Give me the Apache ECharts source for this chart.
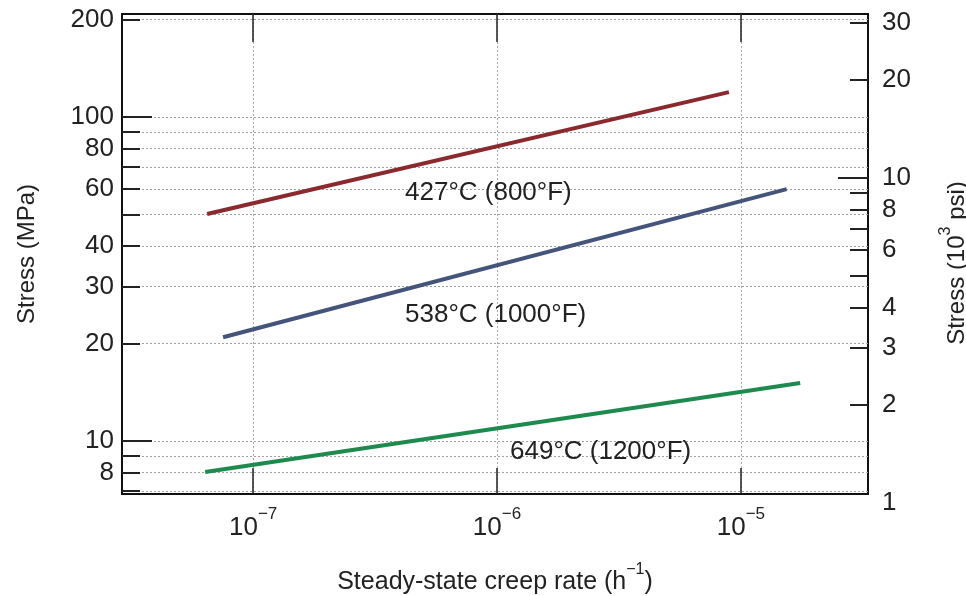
<!DOCTYPE html>
<html>
<head>
<meta charset="utf-8">
<script src="https://cdn.jsdelivr.net/npm/echarts@6/dist/echarts.min.js"></script>
<style>
html, body { margin: 0; padding: 0; background: #fff; }
#main { width: 966px; height: 596px; }
</style>
</head>
<body>
<div id="main"></div>
<script>
var myChart = echarts.init(document.getElementById('main'));

// end points of the three straight lines: creep rate (1/h), stress (MPa)
var rate_427 = [6.48e-8, 8.93e-6];
var stress_427 = [50.2, 119.4];
var rate_538 = [7.53e-8, 1.54e-5];
var stress_538 = [20.9, 59.9];
var rate_649 = [6.36e-8, 1.75e-5];
var stress_649 = [8.02, 15.1];

var series_names = ['427°C (800°F)', '538°C (1000°F)', '649°C (1200°F)'];

// axis ranges and ticks
var rate_range = [2.9e-8, 3.32e-5];
var mpa_range = [6.86, 208];
var ksi_range = [1, 30];
var rate_ticks = [1e-7, 1e-6, 1e-5];
var mpa_ticks = [7, 8, 9, 10, 20, 30, 40, 50, 60, 70, 80, 90, 100, 200];
var mpa_labels = [8, 10, 20, 30, 40, 60, 80, 100, 200];
var mpa_long = [10, 100];
var ksi_ticks = [2, 3, 4, 5, 6, 7, 8, 9, 10, 20, 30];
var ksi_labels = [1, 2, 3, 4, 6, 8, 10, 20, 30];
var ksi_long = [10];

var lg = Math.log10;
var FONT = '"Liberation Sans", Arial, sans-serif';
var INK = '#222';

function toLog(xs, ys) {
    return xs.map(function (x, i) { return [lg(x), lg(ys[i])]; });
}
function logs(arr) { return arr.map(lg); }

var line_colors = ['#8a2a2e', '#45547a', '#1f8a50'];
var line_data = [
    toLog(rate_427, stress_427),
    toLog(rate_538, stress_538),
    toLog(rate_649, stress_649)
];

var series = line_data.map(function (d, i) {
    return {
        name: series_names[i],
        type: 'line',
        xAxisIndex: 0,
        yAxisIndex: 0,
        data: d,
        symbol: 'none',
        lineStyle: { color: line_colors[i], width: 4 },
        z: 5
    };
});

var tickStyle = { color: INK, width: 2 };

option = {
    animation: false,
    grid: [
        { left: 122, right: 98, top: 14, bottom: 102, show: true, borderColor: '#111', borderWidth: 2, outerBoundsMode: 'none' },
        { left: 122, right: 98, top: 23, bottom: 93, outerBoundsMode: 'none' }
    ],
    xAxis: [
        {
            gridIndex: 0, type: 'value', position: 'bottom',
            min: lg(rate_range[0]), max: lg(rate_range[1]),
            axisLine: { show: false },
            axisTick: { inside: true, length: 26, customValues: logs(rate_ticks), lineStyle: { color: INK, width: 1.5 } },
            axisLabel: {
                customValues: logs(rate_ticks),
                margin: 12,
                formatter: function (v) {
                    return '{a|10}{b|−' + Math.abs(Math.round(v)) + '}';
                },
                rich: {
                    a: { fontFamily: FONT, fontSize: 26, color: INK, lineHeight: 44 },
                    b: { fontFamily: FONT, fontSize: 17, color: INK, lineHeight: 16, verticalAlign: 'top' }
                }
            },
            splitLine: { show: true, lineStyle: { color: '#aaa', type: [2, 2], width: 1 } },
            name: '{a|Steady-state creep rate (h}{b|−1}{a|)}',
            nameLocation: 'middle',
            nameGap: 68,
            nameTextStyle: {
                rich: {
                    a: { fontFamily: FONT, fontSize: 25, color: INK, lineHeight: 40 },
                    b: { fontFamily: FONT, fontSize: 16, color: INK, lineHeight: 16, verticalAlign: 'top' }
                }
            }
        },
        {
            gridIndex: 0, type: 'value', position: 'top',
            min: lg(rate_range[0]), max: lg(rate_range[1]),
            axisLine: { show: false },
            axisTick: { inside: true, length: 28, customValues: logs(rate_ticks), lineStyle: { color: INK, width: 1.5 } },
            axisLabel: { show: false },
            splitLine: { show: false }
        },
        {
            gridIndex: 1, type: 'value', show: false,
            min: lg(rate_range[0]), max: lg(rate_range[1])
        }
    ],
    yAxis: [
        {
            gridIndex: 0, type: 'value', position: 'left',
            min: lg(mpa_range[0]), max: lg(mpa_range[1]),
            axisLine: { show: false },
            axisTick: { inside: true, length: 18, customValues: logs(mpa_ticks), lineStyle: tickStyle },
            axisLabel: {
                customValues: logs(mpa_labels),
                margin: 8,
                fontFamily: FONT, fontSize: 26, color: INK,
                formatter: function (v) { return Math.round(Math.pow(10, v)); }
            },
            splitLine: { show: true, lineStyle: { color: '#a0a0a0', type: [2, 2], width: 1 } },
            name: 'Stress (MPa)',
            nameLocation: 'middle',
            nameRotate: 90,
            nameGap: 83,
            nameTextStyle: { fontFamily: FONT, fontSize: 24, color: INK }
        },
        {
            gridIndex: 0, type: 'value', position: 'left',
            min: lg(mpa_range[0]), max: lg(mpa_range[1]),
            axisLine: { show: false },
            axisTick: { inside: true, length: 30, customValues: logs(mpa_long), lineStyle: tickStyle },
            axisLabel: { show: false },
            splitLine: { show: false }
        },
        {
            gridIndex: 1, type: 'value', position: 'right',
            min: lg(ksi_range[0]), max: lg(ksi_range[1]),
            axisLine: { show: false },
            axisTick: { inside: true, length: 18, customValues: logs(ksi_ticks), lineStyle: tickStyle },
            axisLabel: {
                customValues: logs(ksi_labels),
                margin: 14,
                fontFamily: FONT, fontSize: 26, color: INK,
                formatter: function (v) { return Math.round(Math.pow(10, v)); }
            },
            splitLine: { show: false },
            name: '{a|Stress (10}{b|3}{a| psi)}',
            nameLocation: 'middle',
            nameRotate: 90,
            nameGap: 70,
            nameTextStyle: {
                rich: {
                    a: { fontFamily: FONT, fontSize: 24, color: INK, lineHeight: 38 },
                    b: { fontFamily: FONT, fontSize: 16, color: INK, lineHeight: 14, verticalAlign: 'top' }
                }
            }
        },
        {
            gridIndex: 1, type: 'value', position: 'right',
            min: lg(ksi_range[0]), max: lg(ksi_range[1]),
            axisLine: { show: false },
            axisTick: { inside: true, length: 30, customValues: logs(ksi_long), lineStyle: tickStyle },
            axisLabel: { show: false },
            splitLine: { show: false }
        }
    ],
    graphic: [
        { type: 'text', x: 405, y: 193, z: 10, style: { text: series_names[0], font: '26px ' + FONT, fill: INK, verticalAlign: 'middle' } },
        { type: 'text', x: 405, y: 315, z: 10, style: { text: series_names[1], font: '26px ' + FONT, fill: INK, verticalAlign: 'middle' } },
        { type: 'text', x: 510, y: 452, z: 10, style: { text: series_names[2], font: '26px ' + FONT, fill: INK, verticalAlign: 'middle' } }
    ],
    series: series
};

myChart.setOption(option);
</script>
</body>
</html>
